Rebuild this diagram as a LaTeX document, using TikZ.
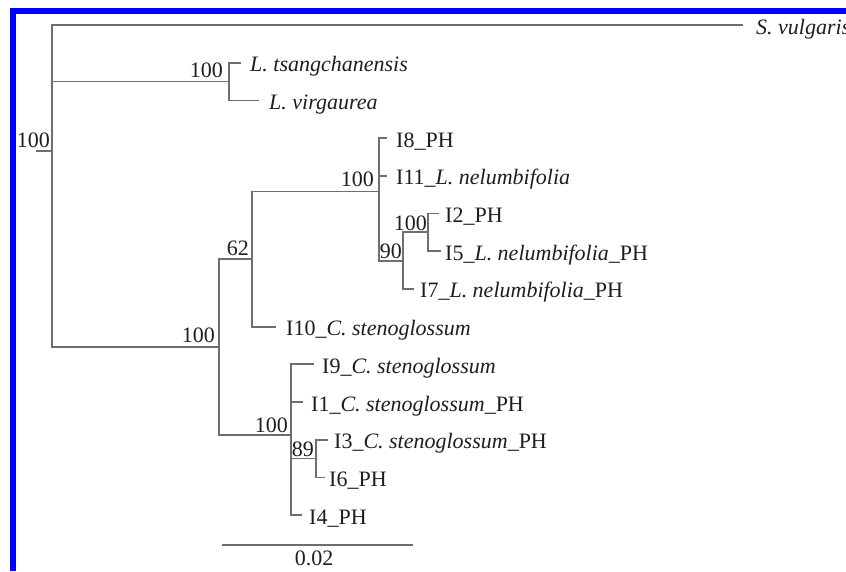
\documentclass[tikz,border=0pt]{standalone}
\usepackage{fontspec}
\setmainfont{Liberation Serif}
\definecolor{branch}{RGB}{110,110,110}
\definecolor{ink}{RGB}{30,30,30}
\definecolor{frameblue}{RGB}{0,0,255}
\begin{document}
\begin{tikzpicture}[x=1pt,y=-1pt,
  br/.style={draw=branch,line width=1.8pt,line cap=rect},
  leaf/.style={anchor=base west,inner sep=0pt,text=ink,font=\fontsize{22}{26}\selectfont},
  boot/.style={anchor=base east,inner sep=0pt,text=ink,font=\fontsize{22}{26}\selectfont},
  frame/.style={fill=frameblue,draw=none}]
\useasboundingbox (0,0) rectangle (846,571);
\clip (0,0) rectangle (846,571);
% blue frame
\fill[frame] (10,8) rectangle (846,14);
\fill[frame] (10,8) rectangle (16,571);
% internal nodes
\coordinate (root)  at (52,151.2);
\coordinate (stub)  at (37,151.2);
\coordinate (nL)    at (229,81.55);
\coordinate (nLow)  at (219,347);
\coordinate (n62)   at (252,259);
\coordinate (nUp)   at (379,191.5);
\coordinate (n90)   at (403,260.6);
\coordinate (nS)    at (428,232.35);
\coordinate (nC)    at (291,435);
\coordinate (n89)   at (316,458.55);
% leaf tick ends
\coordinate (eSv)  at (742,25);
\coordinate (eTs)  at (240,62.7);
\coordinate (eVi)  at (258,100.4);
\coordinate (eI8)  at (386,138.1);
\coordinate (eI11) at (386,175.8);
\coordinate (eI2)  at (438,213.5);
\coordinate (eI5)  at (440,251.2);
\coordinate (eI7)  at (413,288.9);
\coordinate (eI10) at (275,326.6);
\coordinate (eI9)  at (313,364.3);
\coordinate (eI1)  at (302,402.0);
\coordinate (eI3)  at (327,439.7);
\coordinate (eI6)  at (324,477.4);
\coordinate (eI4)  at (301,515.1);
% leaf labels
\node[leaf] (tSv)  at (756,34)    {\textit{S. vulgaris}};
\node[leaf] (tTs)  at (250,71.7)  {\textit{L. tsangchanensis}};
\node[leaf] (tVi)  at (269,109.4) {\textit{L. virgaurea}};
\node[leaf] (tI8)  at (396,147.1) {I8\_PH};
\node[leaf] (tI11) at (396,184.8) {I11\_\textit{L. nelumbifolia}};
\node[leaf] (tI2)  at (445,222.5) {I2\_PH};
\node[leaf] (tI5)  at (445,260.2) {I5\_\textit{L. nelumbifolia}\_PH};
\node[leaf] (tI7)  at (420,297.9) {I7\_\textit{L. nelumbifolia}\_PH};
\node[leaf] (tI10) at (286,335.6) {I10\_\textit{C. stenoglossum}};
\node[leaf] (tI9)  at (322,373.3) {I9\_\textit{C. stenoglossum}};
\node[leaf] (tI1)  at (311,411.0) {I1\_\textit{C. stenoglossum}\_PH};
\node[leaf] (tI3)  at (334,448.7) {I3\_\textit{C. stenoglossum}\_PH};
\node[leaf] (tI6)  at (329,486.4) {I6\_PH};
\node[leaf] (tI4)  at (309,524.1) {I4\_PH};
% branches
\draw[br] (stub) -- (root);
\draw[br] (root) |- (eSv);
\draw[br] (root) |- (nL);
\draw[br] (root) |- (nLow);
\draw[br] (nL) |- (eTs);
\draw[br] (nL) |- (eVi);
\draw[br] (nLow) |- (n62);
\draw[br] (nLow) |- (nC);
\draw[br] (n62) |- (nUp);
\draw[br] (n62) |- (eI10);
\draw[br] (nUp) |- (eI8);
\draw[br] (nUp) |- (eI11);
\draw[br] (nUp) |- (n90);
\draw[br] (n90) |- (nS);
\draw[br] (n90) |- (eI7);
\draw[br] (nS) |- (eI2);
\draw[br] (nS) |- (eI5);
\draw[br] (nC) |- (eI9);
\draw[br] (nC) |- (eI1);
\draw[br] (nC) |- (n89);
\draw[br] (nC) |- (eI4);
\draw[br] (n89) |- (eI3);
\draw[br] (n89) |- (eI6);
% bootstrap values
\node[boot] (bRoot) at (50,147) {100};
\node[boot] (bL)    at (223,77) {100};
\node[boot] (bLow)  at (215,342) {100};
\node[boot] (b62)   at (249,255) {62};
\node[boot] (bUp)   at (374,186) {100};
\node[boot] (b90)   at (402,258) {90};
\node[boot] (bS)    at (427,230) {100};
\node[boot] (bC)    at (288,432) {100};
\node[boot] (b89)   at (314,456) {89};
% scale bar
\coordinate (sbL) at (222,545);
\coordinate (sbR) at (413,545);
\draw[br,line cap=butt] (sbL) -- (sbR);
\node[boot,anchor=base] (sbT) at (314,565) {0.02};
\end{tikzpicture}
\end{document}
